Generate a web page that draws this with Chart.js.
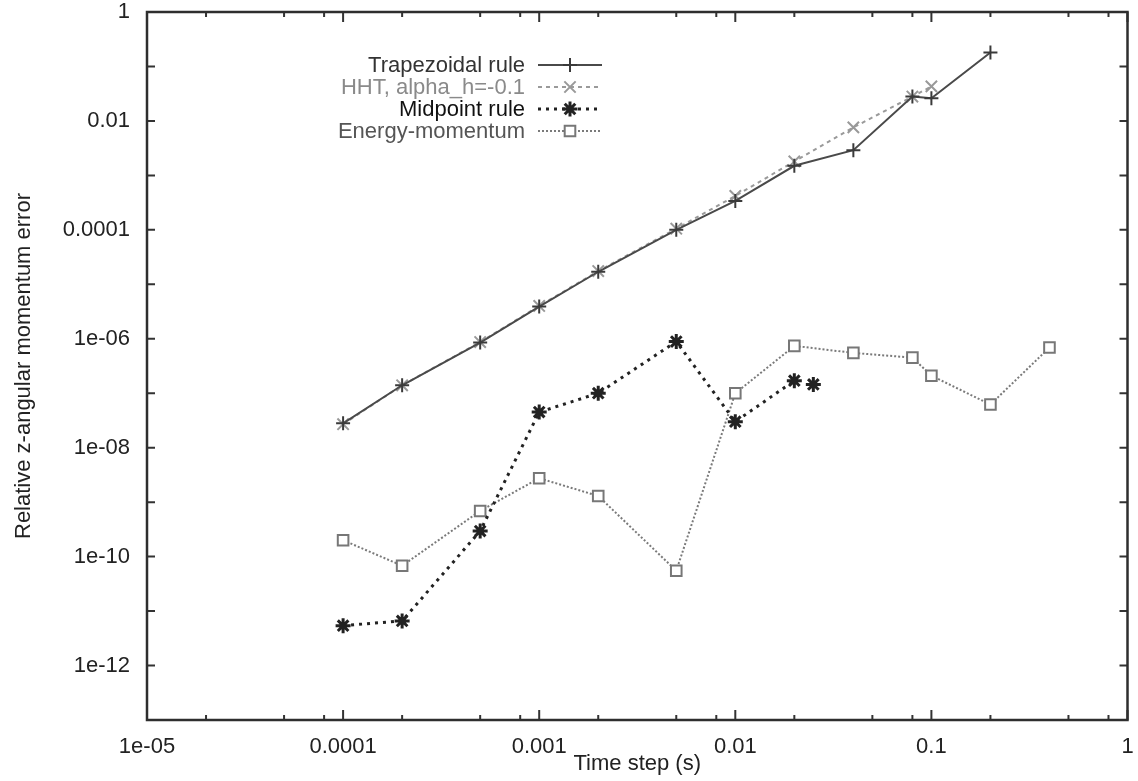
<!DOCTYPE html>
<html>
<head>
<meta charset="utf-8">
<script src="https://cdn.jsdelivr.net/npm/chart.js@4"></script>
<style>
  html, body { margin: 0; padding: 0; background: #fff; }
  #wrap { width: 1138px; height: 781px; position: relative; }
</style>
</head>
<body>
<div id="wrap"><canvas id="chart" width="1138" height="781"></canvas></div>
<script>
"use strict";

// time steps (s)
const trapSteps = [1e-4, 2e-4, 5e-4, 1e-3, 2e-3, 5e-3, 0.01, 0.02, 0.04, 0.08, 0.1, 0.2];
const hhtSteps = [1e-4, 2e-4, 5e-4, 1e-3, 2e-3, 5e-3, 0.01, 0.02, 0.04, 0.08, 0.1];
const midSteps = [1e-4, 2e-4, 5e-4, 1e-3, 2e-3, 5e-3, 0.01, 0.02, 0.025];
const energySteps = [1e-4, 2e-4, 5e-4, 1e-3, 2e-3, 5e-3, 0.01, 0.02, 0.04, 0.08, 0.1, 0.2, 0.4];

// relative z-angular momentum error
const trapError = [2.8e-8, 1.4e-7, 8.5e-7, 3.9e-6, 1.7e-5, 1.0e-4, 3.4e-4, 1.5e-3, 2.9e-3, 2.8e-2, 2.6e-2, 0.18];
const hhtError = [2.7e-8, 1.4e-7, 8.7e-7, 4.0e-6, 1.75e-5, 1.05e-4, 4.2e-4, 1.8e-3, 7.6e-3, 2.8e-2, 4.3e-2];
const midError = [5.4e-12, 6.6e-12, 2.95e-10, 4.5e-8, 1.0e-7, 8.9e-7, 3.0e-8, 1.7e-7, 1.45e-7];
const energyError = [2.0e-10, 6.8e-11, 6.9e-10, 2.75e-9, 1.3e-9, 5.5e-11, 1.0e-7, 7.4e-7, 5.5e-7, 4.5e-7, 2.1e-7, 6.2e-8, 6.9e-7];
const midBreakAfter = 7; // no line drawn between these two midpoint samples

const seriesNames = ["Trapezoidal rule", "HHT, alpha_h=-0.1", "Midpoint rule", "Energy-momentum"];

const xTickValues = [1e-5, 1e-4, 1e-3, 1e-2, 1e-1, 1];
const xTickLabels = ["1e-05", "0.0001", "0.001", "0.01", "0.1", "1"];
const xMinorFactors = [2, 5, 8];
const yTickValues = [1, 1e-2, 1e-4, 1e-6, 1e-8, 1e-10, 1e-12];
const yTickLabels = ["1", "0.01", "0.0001", "1e-06", "1e-08", "1e-10", "1e-12"];

const FONT = "'Liberation Sans', Arial, Helvetica, sans-serif";

const toPoints = (xs, ys) => xs.map((x, i) => ({ x: x, y: ys[i] }));

const datasets = [
	{
		label: seriesNames[0],
		data: toPoints(trapSteps, trapError),
		borderColor: "#4a4a4a",
		borderWidth: 2,
		pointStyle: "cross",
		pointRadius: 7,
		pointBorderWidth: 2,
		pointBorderColor: "#3a3a3a",
		textColor: "#333",
		order: 1,
	},
	{
		label: seriesNames[1],
		data: toPoints(hhtSteps, hhtError),
		borderColor: "#9a9a9a",
		borderWidth: 2,
		borderDash: [4, 4],
		pointStyle: "crossRot",
		pointRadius: 8,
		pointBorderWidth: 2,
		pointBorderColor: "#999",
		textColor: "#8a8a8a",
		order: 2,
	},
	{
		label: seriesNames[2],
		data: toPoints(midSteps, midError),
		borderColor: "#222",
		borderWidth: 3,
		borderDash: [3, 5],
		pointStyle: "star",
		pointRadius: 7.5,
		pointBorderWidth: 3,
		pointBorderColor: "#222",
		textColor: "#111",
		segment: {
			borderColor: (ctx) => (ctx.p0DataIndex === midBreakAfter ? "rgba(0,0,0,0)" : "#222"),
		},
		order: 0,
	},
	{
		label: seriesNames[3],
		data: toPoints(energySteps, energyError),
		borderColor: "#7a7a7a",
		borderWidth: 2,
		borderDash: [2, 2],
		pointStyle: "rect",
		pointRadius: 7.5,
		pointBorderWidth: 2,
		pointBorderColor: "#777",
		pointBackgroundColor: "#fff",
		textColor: "#555",
		order: 3,
	},
];

datasets.forEach((d) => {
	d.fill = false;
	d.tension = 0;
	d.pointHoverRadius = d.pointRadius;
	if (!d.pointBackgroundColor) d.pointBackgroundColor = d.pointBorderColor;
});

const framePlugin = {
	id: "frame",
	afterDatasetsDraw(chart) {
		const ctx = chart.ctx;
		const area = chart.chartArea;
		const xs = chart.scales.x;
		const ys = chart.scales.y;
		ctx.save();

		// inward ticks on all four sides
		ctx.strokeStyle = "#333";
		ctx.lineWidth = 2;
		ctx.beginPath();
		for (let i = 0; i < xTickValues.length; i++) {
			const px = xs.getPixelForValue(xTickValues[i]);
			ctx.moveTo(px, area.bottom);
			ctx.lineTo(px, area.bottom - 10);
			ctx.moveTo(px, area.top);
			ctx.lineTo(px, area.top + 10);
			if (i < xTickValues.length - 1) {
				for (const f of xMinorFactors) {
					const mx = xs.getPixelForValue(xTickValues[i] * f);
					ctx.moveTo(mx, area.bottom);
					ctx.lineTo(mx, area.bottom - 5);
					ctx.moveTo(mx, area.top);
					ctx.lineTo(mx, area.top + 5);
				}
			}
		}
		for (let e = 0; e >= -13; e--) {
			const py = ys.getPixelForValue(Math.pow(10, e));
			ctx.moveTo(area.left, py);
			ctx.lineTo(area.left + 8, py);
			ctx.moveTo(area.right, py);
			ctx.lineTo(area.right - 8, py);
		}
		ctx.stroke();

		// frame
		ctx.lineWidth = 2.5;
		ctx.strokeStyle = "#2e2e2e";
		ctx.strokeRect(area.left, area.top, area.right - area.left, area.bottom - area.top);

		// axis titles
		ctx.fillStyle = "#222";
		ctx.font = "22px " + FONT;
		ctx.textAlign = "center";
		ctx.textBaseline = "middle";
		ctx.fillText("Time step (s)", (area.left + area.right) / 2, 764);
		ctx.save();
		ctx.translate(24, (area.top + area.bottom) / 2);
		ctx.rotate(-Math.PI / 2);
		ctx.fillText("Relative z-angular momentum error", 0, 0);
		ctx.restore();

		// legend, text right aligned with line sample on the right
		const rowY = [65, 87, 109, 131];
		const textRight = 525;
		const sampleLeft = 538;
		const sampleRight = 602;
		chart.data.datasets.forEach((d, i) => {
			const y = rowY[i];
			ctx.fillStyle = d.textColor;
			ctx.textAlign = "right";
			ctx.fillText(d.label, textRight, y + 1);
			ctx.strokeStyle = d.borderColor;
			ctx.lineWidth = d.borderWidth;
			ctx.setLineDash(d.borderDash || []);
			ctx.beginPath();
			ctx.moveTo(sampleLeft, y);
			ctx.lineTo(sampleRight, y);
			ctx.stroke();
			ctx.setLineDash([]);
			ctx.strokeStyle = d.pointBorderColor;
			ctx.fillStyle = d.pointBackgroundColor;
			ctx.lineWidth = d.pointBorderWidth;
			Chart.helpers.drawPoint(ctx, {
				pointStyle: d.pointStyle,
				radius: d.pointRadius,
				rotation: 0,
				borderWidth: d.pointBorderWidth,
			}, (sampleLeft + sampleRight) / 2, y);
		});
		ctx.restore();
	},
};

const ctx = document.getElementById("chart").getContext("2d");
const chart = new Chart(ctx, {
	type: "line",
	data: { datasets: datasets },
	options: {
		responsive: false,
		animation: false,
		devicePixelRatio: 1,
		layout: { padding: { left: 0, right: 8, top: 12, bottom: 0 } },
		plugins: {
			legend: { display: false },
			tooltip: { enabled: false },
		},
		scales: {
			x: {
				type: "logarithmic",
				min: 1e-5,
				max: 1,
				grid: { display: false, drawTicks: false },
				border: { display: false },
				afterBuildTicks: (axis) => {
					axis.ticks = xTickValues.map((v) => ({ value: v }));
				},
				afterFit: (axis) => {
					axis.height = 61;
					axis.paddingLeft = 0;
					axis.paddingRight = 0;
				},
				ticks: {
					autoSkip: false,
					maxRotation: 0,
					padding: 14,
					color: "#222",
					font: { family: FONT, size: 22 },
					callback: (value, index) => xTickLabels[index],
				},
			},
			y: {
				type: "logarithmic",
				min: 1e-13,
				max: 1,
				grid: { display: false, drawTicks: false },
				border: { display: false },
				afterBuildTicks: (axis) => {
					axis.ticks = yTickValues.map((v) => ({ value: v }));
				},
				afterFit: (axis) => {
					axis.width = 147;
					axis.paddingTop = 0;
					axis.paddingBottom = 0;
				},
				ticks: {
					autoSkip: false,
					padding: 17,
					color: "#222",
					font: { family: FONT, size: 22 },
					callback: (value, index) => yTickLabels[index],
				},
			},
		},
	},
	plugins: [framePlugin],
});
</script>
</body>
</html>
